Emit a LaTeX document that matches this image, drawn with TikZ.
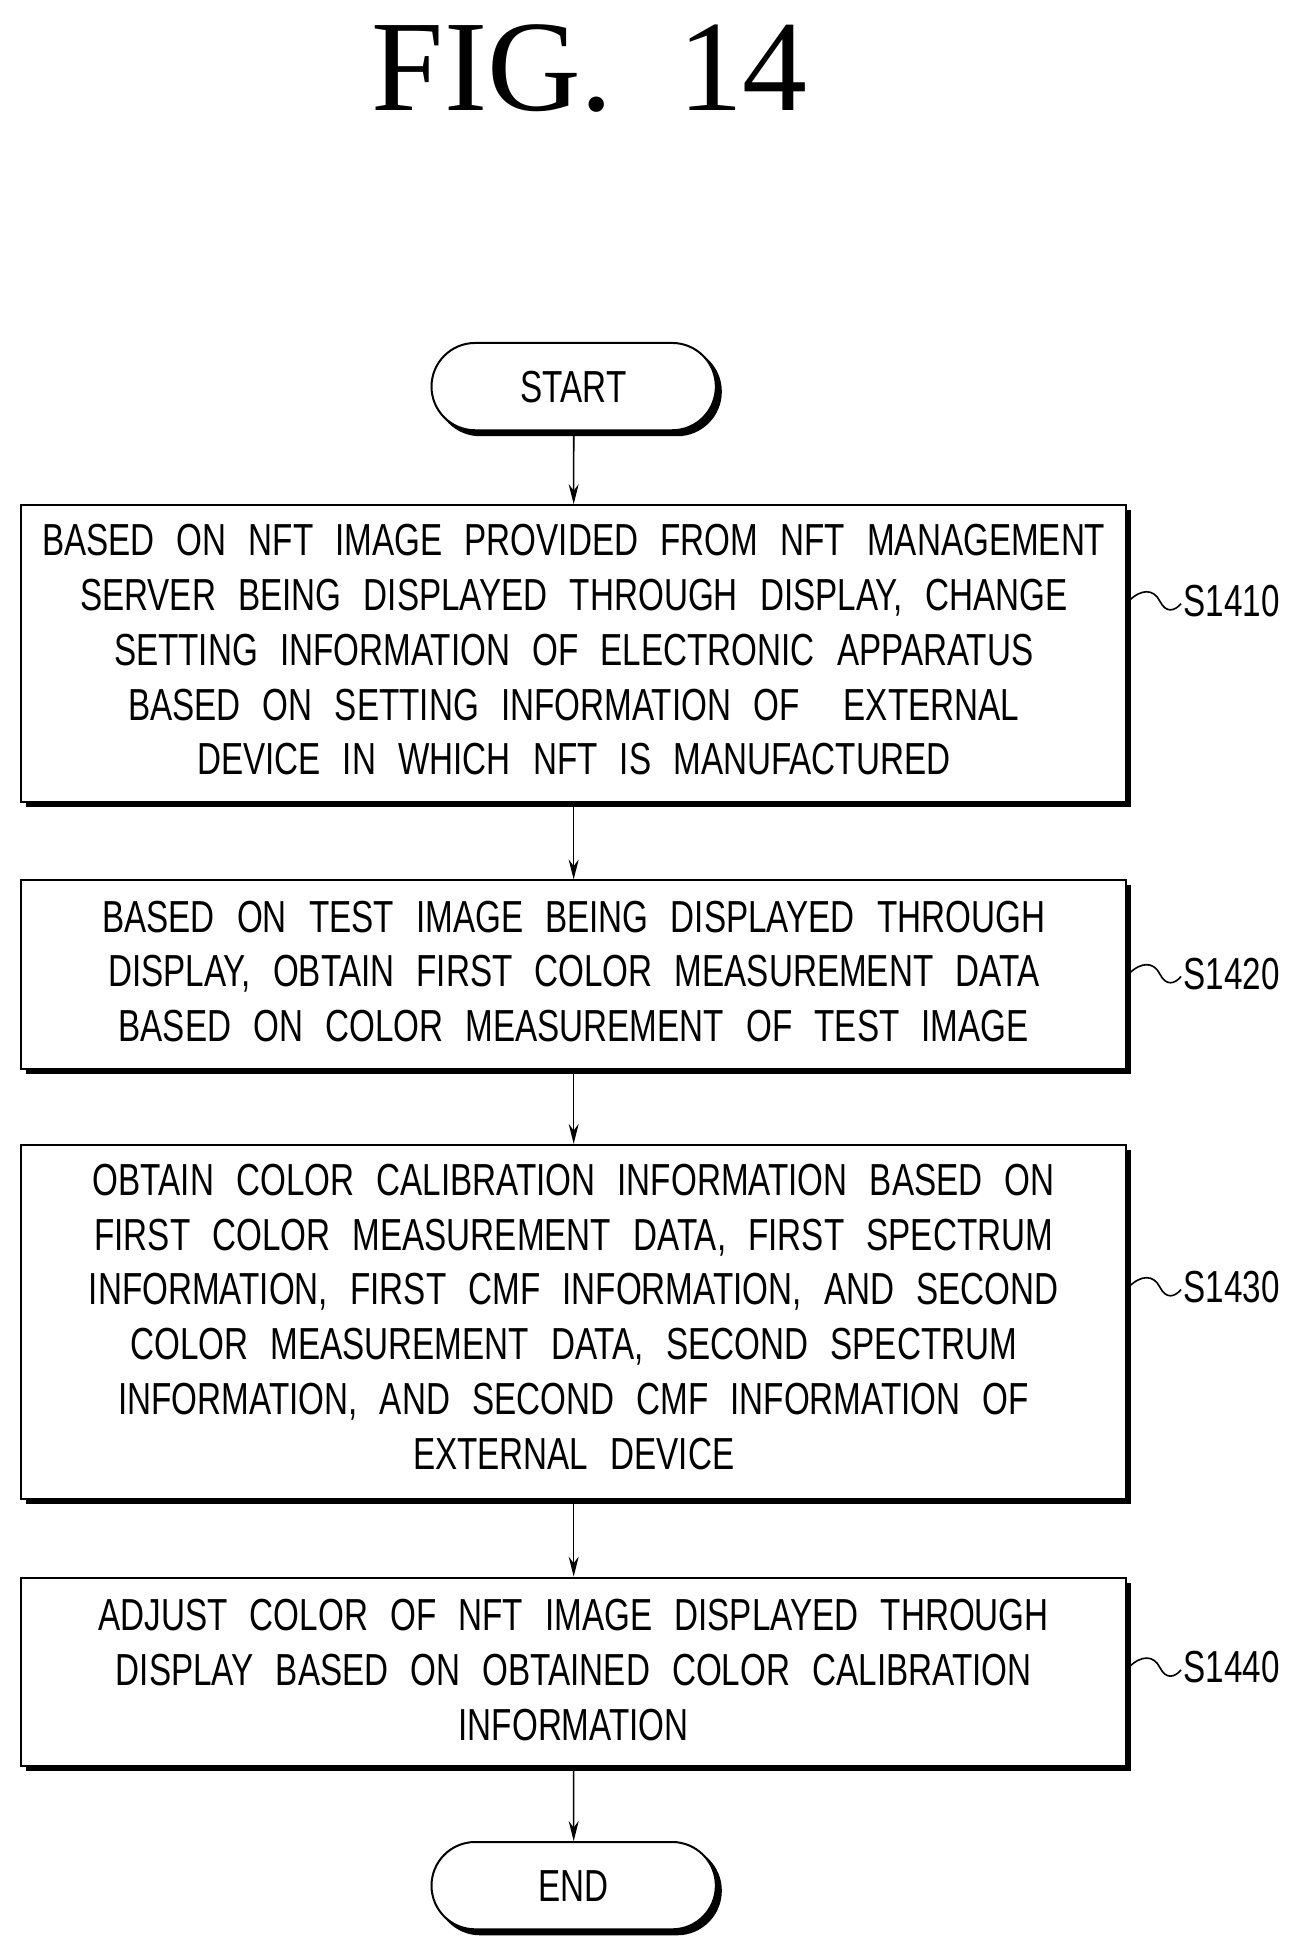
\documentclass[tikz,border=0pt]{standalone}
\usepackage{fontspec}
\setmainfont{Liberation Sans}[FakeStretch=0.74,WordSpace=2.4]
\newfontfamily\figfont{Liberation Serif}
\usetikzlibrary{arrows.meta,shapes.misc}
\begin{document}
\begin{tikzpicture}[x=1pt,y=-1pt,
  txt/.style={font=\fontsize{36}{44}\selectfont,align=center,inner sep=0pt},
  stepbox/.style={draw,line width=1.6pt,fill=white,inner sep=0pt},
  term/.style={draw,line width=1.6pt,fill=white,rounded rectangle,minimum width=228pt,minimum height=70pt,font=\fontsize{36}{44}\selectfont,inner sep=0pt},
  arr/.style={line width=1.3pt,-{Stealth[length=16pt,width=8pt]}},
  lab/.style={font=\fontsize{36}{44}\selectfont,anchor=west,inner sep=0pt}]
\useasboundingbox (0,0) rectangle (1050,1562);
\node[font=\figfont\fontsize{104}{104}\selectfont] (title) at (473,55) {FIG.\ \ 14};
% shadows
\foreach \a/\b in {405/643,706/857,918/1202,1265/1416}{
  \fill (21,\a+4) rectangle (907,\b+4);}
\node[term,fill=black] at (464,314) {};
\node[term,fill=black] at (464,1516) {};
\node[term] (start) at (460,310) {START};
\node[term] (end) at (460,1512) {END};
\node[stepbox,minimum width=886pt,minimum height=238pt] (b1) at (460,524) {};
\node[stepbox,minimum width=886pt,minimum height=151pt] (b2) at (460,781.5) {};
\node[stepbox,minimum width=886pt,minimum height=284pt] (b3) at (460,1060) {};
\node[stepbox,minimum width=886pt,minimum height=151pt] (b4) at (460,1340.5) {};
\node[txt] (t1) at (460,521) {BASED ON NFT IMAGE PROVIDED FROM NFT MANAGEMENT\\SERVER BEING DISPLAYED THROUGH DISPLAY, CHANGE\\SETTING INFORMATION OF ELECTRONIC APPARATUS\\BASED ON SETTING INFORMATION OF\ \ EXTERNAL\\DEVICE IN WHICH NFT IS MANUFACTURED};
\node[txt] (t2) at (460,779) {BASED ON TEST IMAGE BEING DISPLAYED THROUGH\\DISPLAY, OBTAIN FIRST COLOR MEASUREMENT DATA\\BASED ON COLOR MEASUREMENT OF TEST IMAGE};
\node[txt] (t3) at (460,1056) {OBTAIN COLOR CALIBRATION INFORMATION BASED ON\\FIRST COLOR MEASUREMENT DATA, FIRST SPECTRUM\\INFORMATION, FIRST CMF INFORMATION, AND SECOND\\COLOR MEASUREMENT DATA, SECOND SPECTRUM\\INFORMATION, AND SECOND CMF INFORMATION OF\\EXTERNAL DEVICE};
\node[txt] (t4) at (460,1339) {ADJUST COLOR OF NFT IMAGE DISPLAYED THROUGH\\DISPLAY BASED ON OBTAINED COLOR CALIBRATION\\INFORMATION};
\draw[arr] (start) -- (b1);
\draw[arr] (b1) -- (b2);
\draw[arr] (b2) -- (b3);
\draw[arr] (b3) -- (b4);
\draw[arr] (b4) -- (end);
\foreach \b/\y/\s in {b1/482/S1410,b2/781/S1420,b3/1032/S1430,b4/1337/S1440}{
  \coordinate (c\s) at (905,\y);
  \draw[line width=1.3pt] (c\s) .. controls (915,\y-10) and (925,\y-10) .. (930,\y) .. controls (935,\y+10) and (942,\y+8) .. (947,\y+2);
  \node[lab] (l\s) at (949,\y) {\s};}
\end{tikzpicture}
\end{document}
